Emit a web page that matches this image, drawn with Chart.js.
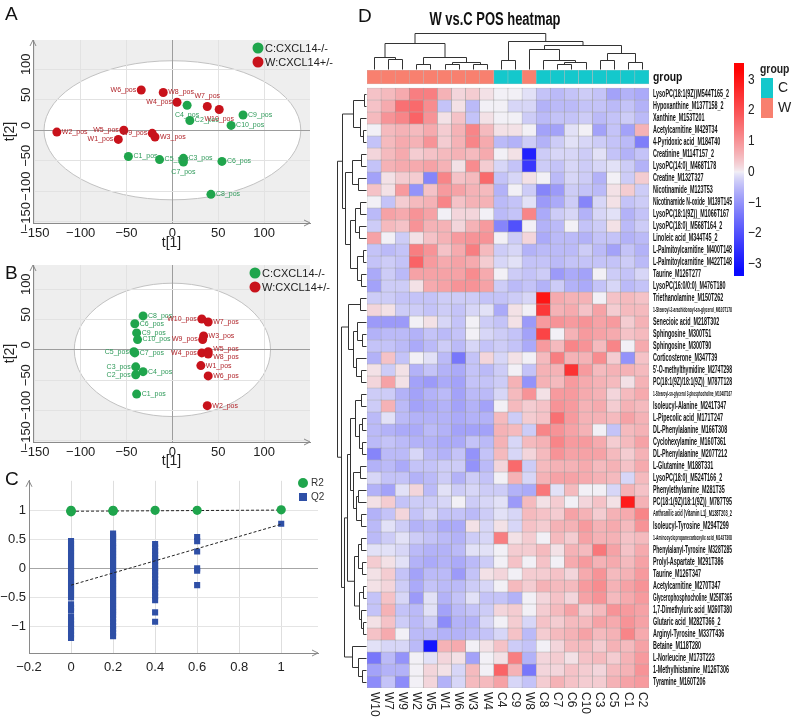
<!DOCTYPE html>
<html>
<head>
<meta charset="utf-8">
<script src="https://cdn.jsdelivr.net/npm/chart.js@4.4.1/dist/chart.umd.min.js"></script>
<style>
  html, body { margin: 0; padding: 0; background: #fff; }
  #page { position: relative; width: 795px; height: 726px; overflow: hidden; background: #fff; }
  #page canvas { position: absolute; }
  .tag { position: absolute; font: 19px 'Liberation Sans', Arial, sans-serif; color: #111; line-height: 1; }
</style>
</head>
<body>
<div id="page">
  <canvas id="chartA" width="345" height="252" style="left:0;top:0"></canvas>
  <canvas id="chartB" width="345" height="235" style="left:0;top:235px"></canvas>
  <canvas id="chartC" width="335" height="210" style="left:0;top:470px"></canvas>
  <canvas id="chartD" width="465" height="726" style="left:330px;top:0"></canvas>
  <div class="tag" style="left:5px;top:4px">A</div>
  <div class="tag" style="left:5px;top:263px">B</div>
  <div class="tag" style="left:5px;top:469px">C</div>
  <div class="tag" style="left:358px;top:6px">D</div>
</div>
<script>
// ---- A: PCA scores ----
const pcaCLabels = ['C1_pos', 'C2_pos', 'C3_pos', 'C4_pos', 'C5_pos', 'C6_pos', 'C7_pos', 'C8_pos', 'C9_pos', 'C10_pos'];
const pcaCx = [-48, 19, 12, 16, -14, 54, 12, 42, 77, 64];
const pcaCy = [-43, 16, -46, 41, -48, -51, -52, -105, 25, 8];
const pcaWLabels = ['W1_pos', 'W2_pos', 'W3_pos', 'W4_pos', 'W5_pos', 'W6_pos', 'W7_pos', 'W8_pos', 'W9_pos', 'W10_pos'];
const pcaWx = [-59, -126, -19, 5, -53, -34, 38, -10, -22, 51];
const pcaWy = [-15, -3, -11, 46, 0, 66, 39, 62, -5, 34];

// ---- B: OPLS-DA scores ----
const oplsCx = [-39, -40, -40, -32, -42, -41, -41, -32, -39, -38];
const oplsCy = [-73, -41, -28, -36, -3, 43, -5, 56, 28, 17];
const oplsWx = [31, 38, 34, 32, 39, 39, 39, 39, 33, 32];
const oplsWy = [-26, -92, 23, -5, -3, -43, 46, -7, 17, 51];

const scoreTicks = [-150, -100, -50, 0, 50, 100];
const groupNames = ['C:CXCL14-/-', 'W:CXCL14+/-'];

// ---- C: permutation test ----
const r2X = [0, 0, 0, 0, 0.2, 0.2, 0.2, 0.4, 0.6, 1];
const r2Y = [0.975, 0.985, 0.99, 1.0, 0.985, 0.995, 1.0, 1.0, 1.0, 1.01];
const q2X0 = [0.47, 0.42, 0.36, 0.31, 0.26, 0.21, 0.16, 0.11, 0.06, 0.01, -0.04, -0.09, -0.14, -0.19, -0.24, -0.29, -0.34, -0.39, -0.44, -0.5, -0.62, -0.68, -0.73, -0.84, -0.9, -0.96, -1.02, -1.08, -1.14, -1.2];
const q2X02 = [0.6, 0.55, 0.5, 0.44, 0.39, 0.34, 0.29, 0.24, 0.19, 0.14, 0.09, 0.04, -0.01, -0.06, -0.11, -0.16, -0.21, -0.26, -0.31, -0.36, -0.41, -0.46, -0.51, -0.56, -0.61, -0.66, -0.71, -0.76, -0.81, -0.87, -0.93, -0.99, -1.05, -1.11, -1.17];
const q2X04 = [0.42, 0.36, 0.3, 0.24, 0.18, 0.12, 0.06, 0.0, -0.06, -0.12, -0.18, -0.24, -0.3, -0.36, -0.42, -0.48, -0.55, -0.76, -0.92];
const q2X06 = [0.54, 0.47, 0.29, 0.0, -0.04, -0.29];
const q2X1 = [0.77];
const r2Line = [0.985, 1.005];
const q2Line = [-0.29, 0.76];
const permXTicks = [-0.2, 0, 0.2, 0.4, 0.6, 0.8, 1];
const permXLabels = ['\u22120.2', '0', '0.2', '0.4', '0.6', '0.8', '1'];
const permYTicks = [-1, -0.5, 0, 0.5, 1];
const permYLabels = ['\u22121', '\u22120.5', '0', '0.5', '1'];

// ---- D: heatmap ----
const heatCols = ['W10', 'W7', 'W9', 'W2', 'W5', 'W1', 'W6', 'W3', 'W4', 'C4', 'C9', 'W8', 'C8', 'C7', 'C6', 'C10', 'C3', 'C5', 'C1', 'C2'];
const heatGroups = ['W', 'W', 'W', 'W', 'W', 'W', 'W', 'W', 'W', 'C', 'C', 'W', 'C', 'C', 'C', 'C', 'C', 'C', 'C', 'C'];
const heatRows = [
  'LysoPC(18:1(9Z))M544T165_2', 'Hypoxanthine_M137T158_2', 'Xanthine_M153T201', 'Acetylcarnitine_M429T34',
  '4-Pyridoxic acid_M184T40', 'Creatinine_M114T157_2', 'LysoPC(14:0)_M468T178', 'Creatine_M132T327',
  'Nicotinamide_M123T53', 'Nicotinamide N-oxide_M139T145', 'LysoPC(18:1(9Z))_M1066T167', 'LysoPC(18:0)_M568T164_2',
  'Linoleic acid_M344T45_2', 'L-Palmitoylcarnitine_M400T148', 'L-Palmitoylcarnitine_M422T148', 'Taurine_M126T277',
  'LysoPC(16:0/0:0)_M476T180', 'Triethanolamine_M150T262', '1-Stearoyl-2-arachidonoyl-sn-glycerol_M620T178',
  'Senecioic acid_M218T302', 'Sphingosine_M300T51', 'Sphingosine_M300T90', 'Corticosterone_M347T39',
  "5'-O-methylthymidine_M274T298", 'PC(18:1(9Z)/18:1(9Z))_M787T128', '1-Stearoyl-sn-glycerol 3-phosphocholine_M1048T167',
  'Isoleucyl-Alanine_M241T347', 'L-Pipecolic acid_M171T247', 'DL-Phenylalanine_M166T308', 'Cyclohexylamine_M160T361',
  'DL-Phenylalanine_M207T212', 'L-Glutamine_M188T331', 'LysoPC(18:0)_M524T166_2', 'Phenylethylamine_M281T35',
  'PC(18:1(9Z)/18:1(9Z))_M787T95', 'Anthranilic acid (Vitamin L1)_M138T203_2', 'Isoleucyl-Tyrosine_M294T299',
  '1-Aminocyclopropanecarboxylic acid_M143T308', 'Phenylalanyl-Tyrosine_M328T285', 'Prolyl-Aspartate_M291T386',
  'Taurine_M126T347', 'Acetylcarnitine_M270T347', 'Glycerophosphocholine_M258T365', '1,7-Dimethyluric acid_M260T380',
  'Glutaric acid_M282T366_2', 'Arginyl-Tyrosine_M337T436', 'Betaine_M118T280', 'L-Norleucine_M173T223',
  '1-Methylhistamine_M126T306', 'Tyramine_M160T206'
];
const heatValues = [
  [0.4, 0.5, 0.7, 1.3, 1.3, 0.6, 0.2, 0.3, 0.1, 0.0, 0.0, -0.1, -0.4, -0.5, -0.4, -0.3, -0.4, -0.8, -0.6, -0.7],
  [0.4, 0.7, 1.5, 1.6, 1.1, -0.4, 0.1, -0.5, 0.0, 0.0, -0.2, -0.2, -0.6, -0.5, -0.5, -0.4, -0.4, -0.5, -0.4, -0.6],
  [0.5, 1.0, 1.2, 1.7, 1.0, 0.1, 0.4, -0.4, 0.1, 0.0, 0.0, -0.3, -0.5, -0.4, -0.4, -0.3, -0.5, -0.4, -0.3, -0.5],
  [0.0, 0.5, 0.6, 0.5, 0.7, 0.3, 0.6, 1.2, 0.5, 0.1, 0.1, 0.0, -0.8, -0.8, -0.1, 0.0, -0.8, -0.4, -0.8, 0.6],
  [-0.4, 0.5, 0.7, 0.6, 1.0, 0.3, 0.6, 1.2, 0.7, -0.5, -0.6, -0.3, -0.6, -0.3, -0.1, -0.2, -0.3, -0.4, -0.5, -1.3],
  [0.2, 0.5, 0.7, 0.3, 0.4, 0.5, 0.6, 0.5, 0.7, 0.0, 0.1, -2.8, -0.3, -0.2, -0.2, -0.3, -0.1, -0.4, -0.6, -0.4],
  [-0.4, 0.6, 0.7, 0.7, 0.8, 0.6, 0.1, 1.1, 0.3, -0.2, -0.4, -2.4, -0.3, -0.4, -0.2, -0.3, -0.2, -0.1, -0.3, -0.6],
  [-0.8, 0.1, 0.3, 0.3, -1.2, 1.2, 0.4, 0.5, 1.6, -0.4, -0.2, 0.1, 0.0, -0.5, -0.2, -0.3, -0.6, 0.0, -0.3, 0.3],
  [0.4, 0.1, 0.9, -1.0, 0.4, 0.9, 0.8, 0.6, 0.5, -0.6, 0.0, -0.3, -1.2, -0.9, -0.3, -0.4, -0.5, 0.1, 0.3, -0.3],
  [0.0, -0.4, 0.3, 0.5, 0.6, 1.2, 0.4, 0.6, 0.6, -0.5, -0.4, -0.1, -0.9, -0.7, -0.3, -1.2, -0.2, 0.1, -0.4, -0.3],
  [-0.5, 0.8, 0.7, 1.0, 0.8, 0.0, 0.2, 0.2, 0.0, -0.5, -0.4, 1.2, -0.7, -0.3, -0.2, -0.6, -0.2, -0.1, -0.6, -0.4],
  [-0.3, 0.5, 0.4, 1.0, 0.6, 0.6, 0.2, 0.6, 0.9, -1.2, -2.0, 0.0, -0.6, -0.5, 0.0, -0.4, -0.3, 0.1, -0.5, -0.3],
  [0.8, 0.0, -0.3, 0.1, 0.4, 0.6, 0.9, 1.0, 1.0, 0.0, -0.3, 0.2, -0.7, -0.5, -0.5, -0.6, -0.4, -0.4, -0.6, -0.5],
  [-0.4, -0.5, -0.4, 1.3, 1.0, 0.4, 0.7, 1.3, 0.5, -0.3, -0.2, -0.6, -0.5, -0.5, -0.5, -0.3, -0.5, -0.8, -0.4, -0.6],
  [-0.4, -0.3, -0.4, 1.7, 0.9, 0.7, 0.8, 0.7, 0.3, -0.2, -0.1, -0.4, -0.4, -0.5, -0.4, -0.4, -0.4, -0.4, -0.3, -0.5],
  [-0.7, -0.3, -0.5, 0.8, 0.8, 0.8, 0.8, 1.1, 0.7, 0.0, -0.3, -0.4, -0.3, -0.9, -0.7, -0.8, 0.0, -0.3, -0.4, -0.2],
  [-0.8, -0.3, -0.3, 0.1, 0.7, 0.8, 1.0, 1.0, 0.8, -0.3, -0.5, -0.4, -0.6, -0.3, -0.6, -0.7, -0.4, -0.2, -0.5, -0.4],
  [-0.3, -0.3, -0.4, -0.4, -0.4, -0.3, -0.3, -0.3, -0.4, -0.4, -0.3, -0.2, 3.0, 0.7, 0.6, 0.6, 0.0, 0.4, 0.5, 0.4],
  [0.2, 0.1, -0.3, -0.3, -0.4, -0.3, -0.4, -0.2, -0.1, -0.7, 0.1, 0.0, 2.4, 0.6, 0.7, 0.4, 0.8, 0.3, 0.5, 0.5],
  [-0.9, -0.9, -0.9, 0.0, 0.1, -0.2, -0.4, 0.0, -0.3, -0.4, 0.1, -0.9, 0.9, 1.0, 0.9, 1.0, 0.8, 0.9, 0.3, 0.6],
  [-0.6, -0.5, -0.5, -0.6, -0.4, -0.5, -0.4, 0.0, -0.2, -0.3, -0.4, -0.8, 2.2, 0.0, 0.6, 0.9, 0.8, 0.7, 0.4, 0.5],
  [-0.4, -0.4, -0.5, -0.7, -0.5, -0.3, -0.5, -0.2, -0.4, -0.3, -0.4, -0.7, 0.9, 0.5, 1.2, 1.0, 0.5, 1.2, 0.0, 0.7],
  [-0.6, 0.4, -0.4, 0.0, -0.1, -0.5, -1.4, -0.4, 0.2, -0.2, 0.1, 0.0, 0.5, 1.3, 0.6, 0.6, 1.1, 0.3, -1.0, 0.4],
  [0.1, -0.3, 0.1, -0.6, -0.4, -0.6, -0.7, -0.4, -0.5, -0.3, 0.0, -0.4, 0.6, 0.6, 2.5, 0.9, 0.5, 0.6, 0.6, 0.5],
  [0.2, 0.8, 0.1, -0.8, -0.9, -0.7, -0.8, -0.4, -0.4, -0.3, 0.6, -1.0, 0.6, 0.5, 0.9, 0.7, 0.6, 0.5, 0.1, 0.6],
  [-0.3, -0.3, -0.6, -0.8, -0.6, -0.5, -0.8, -0.5, -0.5, -0.2, 0.5, 1.0, 0.1, 0.9, 0.9, 0.7, 0.6, 0.2, 0.5, 0.7],
  [-0.3, 0.6, -0.5, -0.8, -0.7, -0.6, -0.8, -0.6, -0.8, 0.0, 0.5, 0.3, 0.4, 1.0, 0.9, 0.6, 0.7, 0.3, 0.6, 0.5],
  [-0.5, -0.1, -0.5, -0.6, -0.6, -0.6, -0.7, -0.6, -0.6, 0.5, -0.3, 0.3, 0.4, 1.5, 0.9, 0.6, 0.6, 0.5, 0.8, 0.6],
  [-0.5, -0.6, -0.7, -0.7, -0.5, -0.6, -0.8, -0.8, -0.8, 0.6, 0.5, -0.3, 1.2, 1.0, 0.8, 0.6, 0.0, -0.4, 0.5, 0.6],
  [-0.5, -0.4, -0.5, -0.6, -0.6, -0.7, -0.7, -0.4, -0.5, 0.6, -0.2, 0.5, 0.6, 1.2, 0.9, 0.9, 0.7, 0.3, 0.5, 0.8],
  [-1.2, -0.5, -0.5, -0.2, -0.5, -0.6, -0.4, -1.0, -0.4, 0.5, -0.2, 0.2, 0.5, 1.0, 0.8, 0.8, 0.8, 0.5, 0.3, 0.6],
  [-0.6, -0.5, -0.7, -0.4, -0.4, -0.3, -0.3, -1.0, -0.5, 0.2, 1.6, -0.3, 0.5, 0.6, 0.6, 0.7, 0.5, 0.6, 0.4, 0.7],
  [-0.2, -0.4, -0.4, -0.6, -0.5, -0.3, -0.6, -0.3, -0.4, 0.0, 0.6, -0.2, 0.6, 0.8, 0.8, 0.7, 0.6, 0.5, -0.2, 0.5],
  [-0.6, -0.8, -0.1, 0.2, -0.5, -0.1, -0.3, -0.2, -0.3, -0.3, -0.6, -0.7, 1.4, -0.1, 0.5, 0.0, 0.0, -0.2, 0.6, 0.4],
  [0.1, 0.3, -0.4, -0.3, -0.3, -0.2, 0.0, -0.3, -0.2, -0.1, -0.9, 0.5, 0.1, 0.3, 0.0, 0.2, 0.4, 0.1, 2.9, 0.6],
  [-0.6, -0.4, 0.2, -0.4, -0.2, -0.4, -0.4, -0.5, -0.3, -0.1, -0.2, 0.5, 0.4, 0.3, 0.8, 0.6, 0.3, 0.6, 0.7, 1.2],
  [-0.5, -0.1, -0.3, -0.6, -0.5, -0.7, -0.7, 0.1, -0.2, 0.1, -0.2, 0.4, 0.3, 0.6, 0.6, 0.9, 0.6, 0.7, 0.5, 1.0],
  [-0.5, -0.3, -0.1, -0.3, -0.4, -0.5, -0.6, -0.3, -0.2, 1.3, 0.1, 0.3, 0.0, 0.5, 0.3, 0.8, 0.6, 0.6, 0.4, 0.5],
  [-0.1, -0.1, -0.2, -0.5, -0.6, -0.6, -0.5, -0.1, -0.1, 0.0, 0.3, 0.3, 0.5, 0.1, 0.6, 0.5, 1.4, 0.8, 0.4, 0.7],
  [0.3, 0.1, -0.1, -0.6, -0.7, -0.6, -0.7, -0.5, -0.3, 0.0, 0.4, 0.0, 0.4, 0.0, 0.7, 0.9, 0.6, 0.7, 0.5, 0.8],
  [0.1, 0.3, -0.4, -0.8, -0.5, -0.5, -0.9, -0.4, 0.1, 0.2, 0.0, 0.3, 0.3, 0.4, 0.2, 0.7, 1.0, 0.5, 0.6, 0.9],
  [0.1, 0.2, -0.3, -0.7, -0.4, -0.5, -0.5, -0.3, -0.2, 0.0, 0.5, 0.3, 0.6, 0.5, 0.5, 0.9, 1.1, 0.6, 0.8, 1.0],
  [-0.4, 0.4, -0.2, -0.9, -0.1, -0.6, -0.4, -0.1, -0.4, -0.4, -0.6, 0.0, 0.2, 0.4, 0.2, 0.8, 1.0, 0.5, 0.7, 0.9],
  [-0.4, 0.6, -0.4, -0.5, -0.1, -0.8, -0.5, -0.4, -0.3, 0.2, 0.3, 0.0, 0.3, 0.5, 0.8, 0.3, 0.5, 1.0, 0.9, 0.8],
  [0.1, 0.4, -0.3, -0.5, -0.3, -1.1, -0.6, -0.6, -0.2, 0.0, 0.3, -0.2, 0.4, 0.3, 0.5, 0.5, 0.8, 0.7, 1.0, 0.8],
  [0.4, 0.7, 0.0, -0.5, -0.5, -0.6, -0.6, -0.5, -0.4, -0.2, 0.4, -0.5, 0.3, 0.5, 0.6, 0.8, 0.5, 0.6, 1.2, 0.7],
  [-0.1, -0.2, -0.2, -0.5, -3.0, 0.6, 0.7, 0.0, 0.1, 0.4, -0.3, -0.4, 0.0, 0.2, 0.5, 0.5, 0.3, 0.6, 0.5, 0.8],
  [-1.4, -0.5, -1.0, 0.0, -0.1, 0.2, 0.1, -0.8, 0.0, 0.1, 1.3, -0.6, 0.2, 0.3, 0.1, 0.4, 0.5, 0.3, 0.6, 0.9],
  [-0.8, -0.6, -0.6, 0.0, 0.2, 0.1, -0.2, 0.5, 0.0, 1.7, 0.6, -1.4, 0.2, 0.2, 0.4, 0.3, 0.2, 0.5, 0.6, 1.0],
  [-1.1, -0.4, -1.1, 0.0, 0.2, -0.6, -0.2, 0.5, 0.5, 0.8, -0.2, -0.4, 0.3, 0.6, 0.4, 0.3, 0.3, 0.6, 0.8, 0.9]
];
// clustering trees: [left, right, height], leaves are column / row indices
const colTree = [
  [[0, [1, 2, 10], 12], [[3, 4, 5], [[5, 6, 5], [7, 8, 5], 7], 12], 26],
  [[9, 10, 9], [[11, [12, [[13, 14, 5], 15, 7], 9], 20], [[16, 17, 9], [18, 19, 7], 16], 24], 28],
  36
];
const rowTree = [
  [[[0, 1, 2], [2, [3, 4, 3], 6], 13],
   [[[5, 6, 5], [7, 8, 8], 14], [[[9, 10, 6], [11, 12, 7], 11], [[13, 14, 3], [15, 16, 5], 9], 16], 21], 24],
  [[[17, 18, 6], [[19, [20, 21, 4], 9], [22, [23, 24, 5], 10], 13], 18],
   [[[[[25, 26, 5], [[27, 28, 4], [29, 30, 4], 7], 11], [[31, 32, 6], [[33, 34, 8], [35, 36, 5], 10], 13], 16],
     [[[37, 38, 5], [39, 40, 4], 8], [[41, 42, 3], [43, [44, 45, 3], 5], 7], 12], 19],
    [46, [47, [48, 49, 4], 8], 14], 22], 25],
  29
];
const legendTicks = [3, 2, 1, 0, -1, -2, -3];

// ---- styling ----
const FONT = "'Liberation Sans', Arial, Helvetica, sans-serif";
const GREEN = '#1fa54c';
const RED = '#c8121b';
const BLUE = '#2e4fa6';
const GROUP_COLORS = { C: '#14c8cc', W: '#f8806f' };

Chart.defaults.font.family = FONT;
Chart.defaults.color = '#222';
Chart.defaults.animation = false;
Chart.defaults.responsive = false;
Chart.defaults.devicePixelRatio = 1;
Chart.defaults.plugins.legend.display = false;
Chart.defaults.plugins.tooltip.enabled = false;

const minus = v => String(v).replace('-', '\u2212');

function arrowUp(ctx, x, y) {
  ctx.beginPath();
  ctx.moveTo(x - 3, y + 6); ctx.lineTo(x, y); ctx.lineTo(x + 3, y + 6);
  ctx.stroke();
}
function arrowRight(ctx, x, y) {
  ctx.beginPath();
  ctx.moveTo(x - 6, y - 3); ctx.lineTo(x, y); ctx.lineTo(x - 6, y + 3);
  ctx.stroke();
}

// score plot decorations: grey frame, Hotelling ellipse, rotated ticks, point labels, legend
const scoreDecor = {
  id: 'scoreDecor',
  beforeDraw(chart, args, o) {
    const { ctx, chartArea: a, scales: { x, y } } = chart;
    ctx.save();
    ctx.fillStyle = '#eeeeee';
    ctx.fillRect(a.left, a.top, a.width, a.height);
    const cx = x.getPixelForValue(0), cy = y.getPixelForValue(0);
    const rx = x.getPixelForValue(o.ellipse[0]) - cx;
    const ry = cy - y.getPixelForValue(o.ellipse[1]);
    ctx.beginPath();
    ctx.ellipse(cx, cy, rx, ry, 0, 0, Math.PI * 2);
    ctx.fillStyle = '#ffffff';
    ctx.fill();
    ctx.strokeStyle = '#c2c2c2';
    ctx.lineWidth = 1;
    ctx.stroke();
    ctx.restore();
  },
  afterDraw(chart, args, o) {
    const { ctx, chartArea: a, scales: { y } } = chart;
    ctx.save();
    // y tick labels, rotated
    ctx.font = '13px ' + FONT;
    ctx.fillStyle = '#222';
    ctx.textAlign = 'center';
    ctx.textBaseline = 'middle';
    scoreTicks.forEach(v => {
      ctx.save();
      ctx.translate(26, y.getPixelForValue(v) - 5);
      ctx.rotate(-Math.PI / 2);
      ctx.fillText(minus(v), 0, 0);
      ctx.restore();
    });
    ctx.strokeStyle = '#888';
    ctx.lineWidth = 1;
    arrowUp(ctx, a.left, a.top);
    arrowRight(ctx, a.right, a.bottom);
    // point labels
    ctx.font = '7px ' + FONT;
    chart.data.datasets.forEach((ds, i) => {
      const pts = chart.getDatasetMeta(i).data;
      ctx.fillStyle = ds.labelColor;
      pts.forEach((p, k) => {
        const name = ds.pointNames[k];
        const side = o.sides[name] || 'r';
        let tx = p.x, ty = p.y;
        if (side[0] === 'r') { ctx.textAlign = 'left'; tx += 5; }
        else if (side === 'l') { ctx.textAlign = 'right'; tx -= 5; }
        else { ctx.textAlign = 'center'; ty += side === 'b' ? 10 : -10; }
        if (side === 'ru') ty -= 3;
        if (side === 'rd') ty += 3;
        ctx.fillText(name, tx, ty);
      });
    });
    // legend
    ctx.font = '11px ' + FONT;
    ctx.textAlign = 'left';
    [GREEN, RED].forEach((col, k) => {
      const ly = o.legendY + k * 14;
      ctx.beginPath();
      ctx.arc(o.legendX, ly, 5.5, 0, Math.PI * 2);
      ctx.fillStyle = col;
      ctx.fill();
      ctx.fillStyle = '#222';
      ctx.fillText(groupNames[k], o.legendX + 7, ly + 0.5);
    });
    ctx.restore();
  }
};

function toPoints(xs, ys) {
  return xs.map((v, i) => ({ x: v, y: ys[i] }));
}

function scoreChart(id, cx, cy, wx, wy, opts) {
  return new Chart(document.getElementById(id), {
    type: 'scatter',
    data: {
      datasets: [
        { data: toPoints(cx, cy), pointNames: pcaCLabels, labelColor: '#2f9a5a', backgroundColor: GREEN, borderWidth: 0, pointRadius: 4.5 },
        { data: toPoints(wx, wy), pointNames: pcaWLabels, labelColor: '#b0242a', backgroundColor: RED, borderWidth: 0, pointRadius: 4.5 }
      ]
    },
    options: {
      layout: { padding: { top: opts.top, right: 35, left: 0, bottom: 0 } },
      scales: {
        x: {
          type: 'linear', min: -152, max: 150,
          afterBuildTicks: s => { s.ticks = scoreTicks.map(v => ({ value: v })); },
          afterFit: s => { s.height = opts.xh; },
          ticks: { font: { size: 13 }, color: '#222', padding: 3, callback: v => minus(v), maxRotation: 0 },
          grid: { drawTicks: false, color: c => (c.tick && c.tick.value === 0) ? '#9d9d9d' : '#e2e2e2' },
          border: { color: '#8a8a8a' },
          title: { display: true, text: 't[1]', font: { size: 14 }, color: '#222', padding: 0 }
        },
        y: {
          type: 'linear', min: opts.ymin, max: opts.ymax,
          afterBuildTicks: s => { s.ticks = scoreTicks.map(v => ({ value: v })); },
          afterFit: s => { s.width = 33; },
          ticks: { display: false },
          grid: { drawTicks: false, color: c => (c.tick && c.tick.value === 0) ? '#9d9d9d' : '#e2e2e2' },
          border: { color: '#8a8a8a' },
          title: { display: true, text: 't[2]', font: { size: 14 }, color: '#222', padding: { top: 2, bottom: 0 } }
        }
      },
      plugins: { scoreDecor: { ellipse: opts.ellipse, sides: opts.sides, legendX: opts.legendX, legendY: opts.legendY } }
    },
    plugins: [scoreDecor]
  });
}

scoreChart('chartA', pcaCx, pcaCy, pcaWx, pcaWy, {
  top: 40, xh: 29, ymin: -152, ymax: 148, ellipse: [140, 114], legendX: 258, legendY: 48,
  sides: { C1_pos: 'r', C2_pos: 'r', C3_pos: 'r', C4_pos: 'b', C5_pos: 'r', C6_pos: 'r', C7_pos: 'b', C8_pos: 'r', C9_pos: 'r', C10_pos: 'r',
           W1_pos: 'l', W2_pos: 'r', W3_pos: 'r', W4_pos: 'l', W5_pos: 'l', W6_pos: 'l', W7_pos: 't', W8_pos: 'r', W9_pos: 'l', W10_pos: 'b' }
});
scoreChart('chartB', oplsCx, oplsCy, oplsWx, oplsWy, {
  top: 30, xh: 28, ymin: -152, ymax: 140, ellipse: [107, 110], legendX: 255, legendY: 38,
  sides: { C1_pos: 'r', C2_pos: 'l', C3_pos: 'l', C4_pos: 'r', C5_pos: 'l', C6_pos: 'r', C7_pos: 'r', C8_pos: 'r', C9_pos: 'r', C10_pos: 'r',
           W1_pos: 'r', W2_pos: 'r', W3_pos: 'r', W4_pos: 'l', W5_pos: 'ru', W6_pos: 'r', W7_pos: 'r', W8_pos: 'rd', W9_pos: 'l', W10_pos: 'l' }
});

// ---- C ----
const permDecor = {
  id: 'permDecor',
  afterDraw(chart) {
    const { ctx, chartArea: a } = chart;
    ctx.save();
    ctx.strokeStyle = '#888';
    ctx.lineWidth = 1;
    arrowUp(ctx, a.left, a.top);
    arrowRight(ctx, a.right, a.bottom);
    ctx.beginPath();
    ctx.arc(303, 13, 5, 0, Math.PI * 2);
    ctx.fillStyle = GREEN;
    ctx.fill();
    ctx.fillStyle = BLUE;
    ctx.fillRect(299, 23, 8, 8);
    ctx.fillStyle = '#333';
    ctx.font = '10px ' + FONT;
    ctx.textBaseline = 'middle';
    ctx.fillText('R2', 311, 13.5);
    ctx.fillText('Q2', 311, 27.5);
    ctx.restore();
  }
};
const q2Points = []
  .concat(q2X0.map(v => ({ x: 0, y: v })))
  .concat(q2X02.map(v => ({ x: 0.2, y: v })))
  .concat(q2X04.map(v => ({ x: 0.4, y: v })))
  .concat(q2X06.map(v => ({ x: 0.6, y: v })))
  .concat(q2X1.map(v => ({ x: 1, y: v })));

new Chart(document.getElementById('chartC'), {
  type: 'scatter',
  data: {
    datasets: [
      { data: toPoints(r2X, r2Y), backgroundColor: GREEN, borderWidth: 0, pointRadius: 4.6 },
      { type: 'line', data: [{ x: 0, y: r2Line[0] }, { x: 1, y: r2Line[1] }], borderColor: '#222', borderWidth: 1, borderDash: [3, 2], pointRadius: 0 },
      { type: 'line', data: [{ x: 0, y: q2Line[0] }, { x: 1, y: q2Line[1] }], borderColor: '#222', borderWidth: 1, borderDash: [3, 2], pointRadius: 0 },
      { data: q2Points, pointStyle: 'rect', backgroundColor: BLUE, borderWidth: 0, pointRadius: 4.3 }
    ]
  },
  options: {
    layout: { padding: { top: 8, right: 17, left: 0, bottom: 0 } },
    scales: {
      x: {
        type: 'linear', min: -0.2, max: 1.175,
        afterBuildTicks: s => { s.ticks = permXTicks.map(v => ({ value: v })); },
        afterFit: s => { s.height = 27; },
        ticks: { font: { size: 13 }, color: '#222', padding: 7, maxRotation: 0, callback: (v, i) => permXLabels[i] },
        grid: { drawTicks: false, color: '#dedede' },
        border: { color: '#8a8a8a' }
      },
      y: {
        type: 'linear', min: -1.46, max: 1.51,
        afterBuildTicks: s => { s.ticks = permYTicks.map(v => ({ value: v })); },
        afterFit: s => { s.width = 29; },
        ticks: { font: { size: 13 }, color: '#222', padding: 3, callback: (v, i) => permYLabels[i] },
        grid: { drawTicks: false, color: c => (c.tick && c.tick.value === 0) ? '#a6a6a6' : '#e4e4e4' },
        border: { color: '#8a8a8a' }
      }
    }
  },
  plugins: [permDecor]
});

// ---- D ----
function heatColor(v) {
  const mid = [242, 240, 246];
  const end = v >= 0 ? [255, 4, 4] : [10, 10, 255];
  const t = Math.pow(Math.min(Math.abs(v) / (v >= 0 ? 3.3 : 3.2), 1), 0.78);
  const c = mid.map((m, k) => Math.round(m + (end[k] - m) * t));
  return `rgb(${c[0]},${c[1]},${c[2]})`;
}

function drawTree(ctx, node, leafPos, hPix, horizontal) {
  if (typeof node === 'number') return { p: leafPos(node), h: 0 };
  const a = drawTree(ctx, node[0], leafPos, hPix, horizontal);
  const b = drawTree(ctx, node[1], leafPos, hPix, horizontal);
  const h = node[2];
  const seg = (p1, q1, p2, q2) => {
    ctx.beginPath();
    if (horizontal) { ctx.moveTo(p1, q1); ctx.lineTo(p2, q2); }
    else { ctx.moveTo(q1, p1); ctx.lineTo(q2, p2); }
    ctx.stroke();
  };
  seg(a.p, hPix(a.h), a.p, hPix(h));
  seg(b.p, hPix(b.h), b.p, hPix(h));
  seg(a.p, hPix(h), b.p, hPix(h));
  return { p: (a.p + b.p) / 2, h };
}

const heatDecor = {
  id: 'heatDecor',
  afterDraw(chart) {
    const { ctx, chartArea: a, scales: { x, y } } = chart;
    ctx.save();
    // title
    ctx.fillStyle = '#111';
    ctx.font = 'bold 18px ' + FONT;
    ctx.textAlign = 'center';
    ctx.textBaseline = 'middle';
    ctx.save();
    ctx.translate(165, 20);
    ctx.scale(0.72, 1);
    ctx.fillText('W vs.C POS heatmap', 0, 0);
    ctx.restore();
    // dendrograms
    ctx.strokeStyle = '#333';
    ctx.lineWidth = 1;
    const top = a.top - 1;
    drawTree(ctx, colTree, i => Math.round(x.getPixelForValue(i)) + 0.5, h => Math.round(top - h) + 0.5, true);
    const left = a.left - 1;
    drawTree(ctx, rowTree, j => Math.round(y.getPixelForValue(j + 0.5)) + 0.5, h => Math.round(left - h) + 0.5, false);
    // "group" next to annotation bar
    ctx.textAlign = 'left';
    ctx.font = 'bold 13px ' + FONT;
    ctx.save();
    ctx.translate(a.right + 4, y.getPixelForValue(-0.9));
    ctx.scale(0.8, 1);
    ctx.fillText('group', 0, 0);
    ctx.restore();
    // row labels
    const maxW = 79;
    heatRows.forEach((name, j) => {
      ctx.font = 'bold 10px ' + FONT;
      const w = ctx.measureText(name).width;
      let sx = Math.max(0.46, Math.min(0.54, maxW / w));
      let sy = 1;
      if (w * sx > maxW) { sy = maxW / (w * sx); sx *= sy; }
      ctx.save();
      ctx.translate(a.right + 4, y.getPixelForValue(j + 0.5));
      ctx.scale(sx, sy);
      ctx.fillText(name, 0, 0);
      ctx.restore();
    });
    // column labels
    ctx.font = '12px ' + FONT;
    ctx.fillStyle = '#222';
    heatCols.forEach((name, i) => {
      ctx.save();
      ctx.translate(x.getPixelForValue(i), a.bottom + 4);
      ctx.rotate(Math.PI / 2);
      ctx.fillText(name, 0, 0);
      ctx.restore();
    });
    // colour key
    const kx = 404, kw = 10, ky0 = 63, ky1 = 276;
    const vTop = 3.55, vBot = -3.39;
    const keyY = v => ky0 + (vTop - v) / (vTop - vBot) * (ky1 - ky0);
    for (let py = ky0; py < ky1; py++) {
      const v = vTop - (py - ky0 + 0.5) / (ky1 - ky0) * (vTop - vBot);
      ctx.fillStyle = heatColor(v);
      ctx.fillRect(kx, py, kw, 1);
    }
    ctx.fillStyle = '#222';
    ctx.font = '14px ' + FONT;
    legendTicks.forEach(v => {
      ctx.save();
      ctx.translate(kx + kw + 4, keyY(v));
      ctx.scale(0.85, 1);
      ctx.fillText(minus(v), 0, 0);
      ctx.restore();
    });
    // group key
    ctx.font = 'bold 13px ' + FONT;
    ctx.save();
    ctx.translate(430, 69);
    ctx.scale(0.8, 1);
    ctx.fillText('group', 0, 0);
    ctx.restore();
    ['C', 'W'].forEach((g, k) => {
      ctx.fillStyle = GROUP_COLORS[g];
      ctx.fillRect(431, 78 + k * 20, 12, 20);
      ctx.fillStyle = '#222';
      ctx.font = '14px ' + FONT;
      ctx.fillText(g, 448, 88 + k * 20);
    });
    ctx.restore();
  }
};

const heatDatasets = [{
  data: heatCols.map(() => [-1.5, -0.33]),
  backgroundColor: heatGroups.map(g => GROUP_COLORS[g]),
  borderColor: '#b8b8b8', borderWidth: 0.5, borderSkipped: false,
  grouped: false, barPercentage: 1, categoryPercentage: 1
}].concat(heatRows.map((name, j) => ({
  label: name,
  data: heatCols.map(() => [j, j + 1]),
  backgroundColor: heatValues[j].map(heatColor),
  borderColor: '#9c9c9c', borderWidth: 0.5, borderSkipped: false,
  grouped: false, barPercentage: 1, categoryPercentage: 1
})));

new Chart(document.getElementById('chartD'), {
  type: 'bar',
  data: { labels: heatCols, datasets: heatDatasets },
  options: {
    layout: { padding: { left: 37, right: 146, top: 70, bottom: 38 } },
    scales: {
      x: { display: false, offset: true },
      y: { display: false, type: 'linear', min: -1.5, max: 50, reverse: true }
    }
  },
  plugins: [heatDecor]
});
</script>
</body>
</html>
